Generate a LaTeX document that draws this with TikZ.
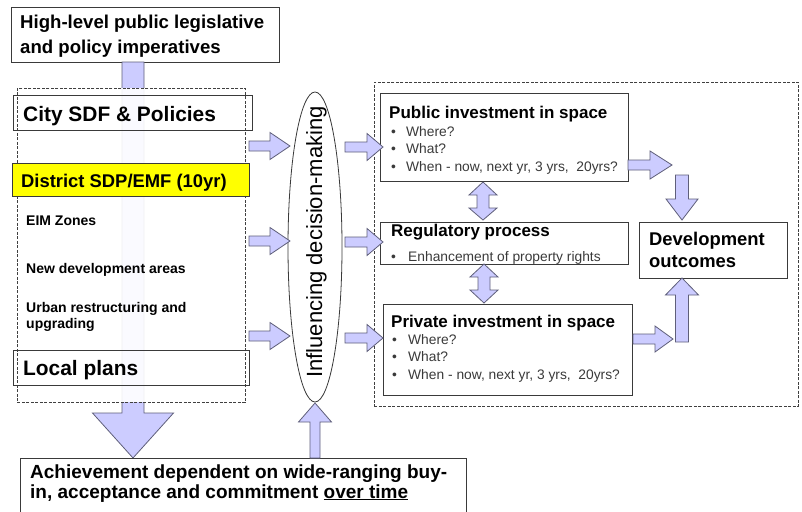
\documentclass[tikz,border=0pt]{standalone}
\usepackage{fontspec}
\setmainfont{Liberation Sans}
\usetikzlibrary{shapes.geometric}
\definecolor{arrowfill}{HTML}{CCCCFF}
\definecolor{arrowline}{HTML}{5F5F7A}
\definecolor{boxline}{HTML}{3A3A3A}
\definecolor{bullettext}{HTML}{3A3A3A}
\definecolor{hiyellow}{HTML}{FFFF00}
\newcommand{\blockR}[6]{\draw[blockarrow] (#1,#4-#5) -- (#2,#4-#5) -- (#2,#4-#6) -- (#3,#4) -- (#2,#4+#6) -- (#2,#4+#5) -- (#1,#4+#5) -- cycle;}
\newcommand{\blockV}[6]{\draw[blockarrow] (#1-#2,#4) -- (#1-#2,#5) -- (#1-#3,#5) -- (#1,#6) -- (#1+#3,#5) -- (#1+#2,#5) -- (#1+#2,#4) -- cycle;}
\newcommand{\blockD}[7]{\draw[blockarrow] (#1,#4) -- (#1+#3,#5) -- (#1+#2,#5) -- (#1+#2,#6) -- (#1+#3,#6) -- (#1,#7) -- (#1-#3,#6) -- (#1-#2,#6) -- (#1-#2,#5) -- (#1-#3,#5) -- cycle;}
\newcommand{\fsize}[1]{\fontsize{#1}{#1}\selectfont}
\begin{document}
\begin{tikzpicture}[x=1pt,y=-1pt,
  box/.style={draw=boxline, line width=0.8pt, inner sep=0pt, anchor=north west},
  groupbox/.style={draw=black!75, line width=0.7pt, dash pattern=on 3pt off 1.5pt, inner sep=0pt, anchor=north west},
  blockarrow/.style={fill=arrowfill, draw=arrowline, line width=0.8pt, line join=miter},
  txt/.style={anchor=base west, inner sep=0pt},
  bigtitle/.style={txt, font=\fsize{18.6}\bfseries},
  plantitle/.style={txt, font=\fsize{20.9}\bfseries},
  subtitle/.style={txt, font=\fsize{17}\bfseries},
  item/.style={txt, font=\fsize{14}\bfseries},
  bullet/.style={txt, font=\fsize{13.8}, text=bullettext}]
\useasboundingbox (0,0) rectangle (802,511);
\clip (0,0) rectangle (802,511);
\fill[white] (0,0) rectangle (802,511);

% top box
\node[box, minimum width=268.6pt, minimum height=54.7pt] (top) at (10.7,7) {};
\node[bigtitle] (toptxt1) at (20,29) {High-level public legislative};
\node[bigtitle] (toptxt2) at (20,53) {and policy imperatives};

% big down arrow through the left group
\draw[blockarrow] (122,62) -- (122,413) -- (92.5,413) -- (133,458) -- (173.5,413) -- (144,413) -- (144,62) -- cycle;
\fill[white, opacity=0.9] (121,88) rectangle (145,402);

% left group
\node[groupbox, minimum width=228pt, minimum height=314pt] (leftgroup) at (17,88) {};
\node[box, minimum width=239pt, minimum height=35pt] (city) at (13,95) {};
\node[plantitle] (citytxt) at (23,121) {City SDF \& Policies};
\node[box, fill=hiyellow, minimum width=237pt, minimum height=33pt] (district) at (12,163) {};
\node[txt, font=\fsize{18.4}\bfseries] (districttxt) at (21,187) {District SDP/EMF (10yr)};
\node[item] (eim) at (26,225) {EIM Zones};
\node[item] (newdev) at (26,273) {New development areas};
\node[item] (urban1) at (26,312) {Urban restructuring and};
\node[item] (urban2) at (26,328) {upgrading};
\node[box, minimum width=236pt, minimum height=35pt] (local) at (13,350) {};
\node[plantitle] (localtxt) at (23,375) {Local plans};

% ellipse
\node[draw=boxline, line width=0.8pt, ellipse, minimum width=54pt, minimum height=310pt, inner sep=0pt] (infl) at (315,247) {};
\node[rotate=90, anchor=base, inner sep=0pt, font=\fsize{22}] (infltxt) at (322,242) {Influencing decision-making};

% right group
\node[groupbox, minimum width=424pt, minimum height=324pt] (rightgroup) at (374,82) {};
\node[box, minimum width=248pt, minimum height=88pt] (public) at (380,93) {};
\node[subtitle] (publictxt) at (389,118) {Public investment in space};
\node[bullet] (pb1) at (391,136) {•}; \node[bullet] (pt1) at (406,136) {Where?};
\node[bullet] (pb2) at (391,153) {•}; \node[bullet] (pt2) at (406,153) {What?};
\node[bullet] (pb3) at (391,171) {•}; \node[bullet] (pt3) at (406,171) {When - now, next yr, 3 yrs,\ \ 20yrs?};

\node[box, minimum width=248pt, minimum height=42pt] (reg) at (380,222) {};
\node[subtitle] (regtxt) at (391,236) {Regulatory process};
\node[bullet] (rb1) at (391,261) {•}; \node[bullet] (rt1) at (408,261) {Enhancement of property rights};

\node[box, minimum width=148pt, minimum height=56pt] (dev) at (639,222) {};
\node[txt, font=\fsize{18.4}\bfseries] (devtxt1) at (649,245) {Development};
\node[txt, font=\fsize{18.4}\bfseries] (devtxt2) at (649,267) {outcomes};

\node[box, minimum width=249pt, minimum height=91pt] (private) at (383,304) {};
\node[subtitle] (privatetxt) at (391,327) {Private investment in space};
\node[bullet] (vb1) at (392,344) {•}; \node[bullet] (vt1) at (408,344) {Where?};
\node[bullet] (vb2) at (392,361) {•}; \node[bullet] (vt2) at (408,361) {What?};
\node[bullet] (vb3) at (392,379) {•}; \node[bullet] (vt3) at (408,379) {When - now, next yr, 3 yrs,\ \ 20yrs?};

% bottom box
\node[box, minimum width=446pt, minimum height=70pt] (bottom) at (20,458) {};
\node[txt, font=\fsize{19}\bfseries] (bottxt1) at (30,478) {Achievement dependent on wide-ranging buy-};
\node[txt, font=\fsize{19}\bfseries] (bottxt2) at (30,498) {in, acceptance and commitment \underline{over time}};

% block arrows
\blockR{249}{270}{290}{146}{5}{13.5}
\blockR{249}{270}{290}{241}{5}{13.5}
\blockR{249}{270}{290}{336}{5}{13.5}
\blockR{345}{367}{383}{147}{5}{13.5}
\blockR{345}{367}{383}{242}{5}{13.5}
\blockR{345}{367}{383}{338}{5}{13.5}
\blockR{628}{650}{672}{165}{5}{14}
\blockR{633}{655}{673}{339}{5}{13}
\blockV{682}{6.5}{16}{175}{199}{220}
\blockV{682}{6.5}{16.5}{342}{295}{278}
\blockD{483}{6}{14}{182}{195}{208}{220}
\blockD{484}{6}{14}{264}{277}{290}{303}
\blockV{315}{5}{16.5}{458}{422}{403}
\end{tikzpicture}
\end{document}
